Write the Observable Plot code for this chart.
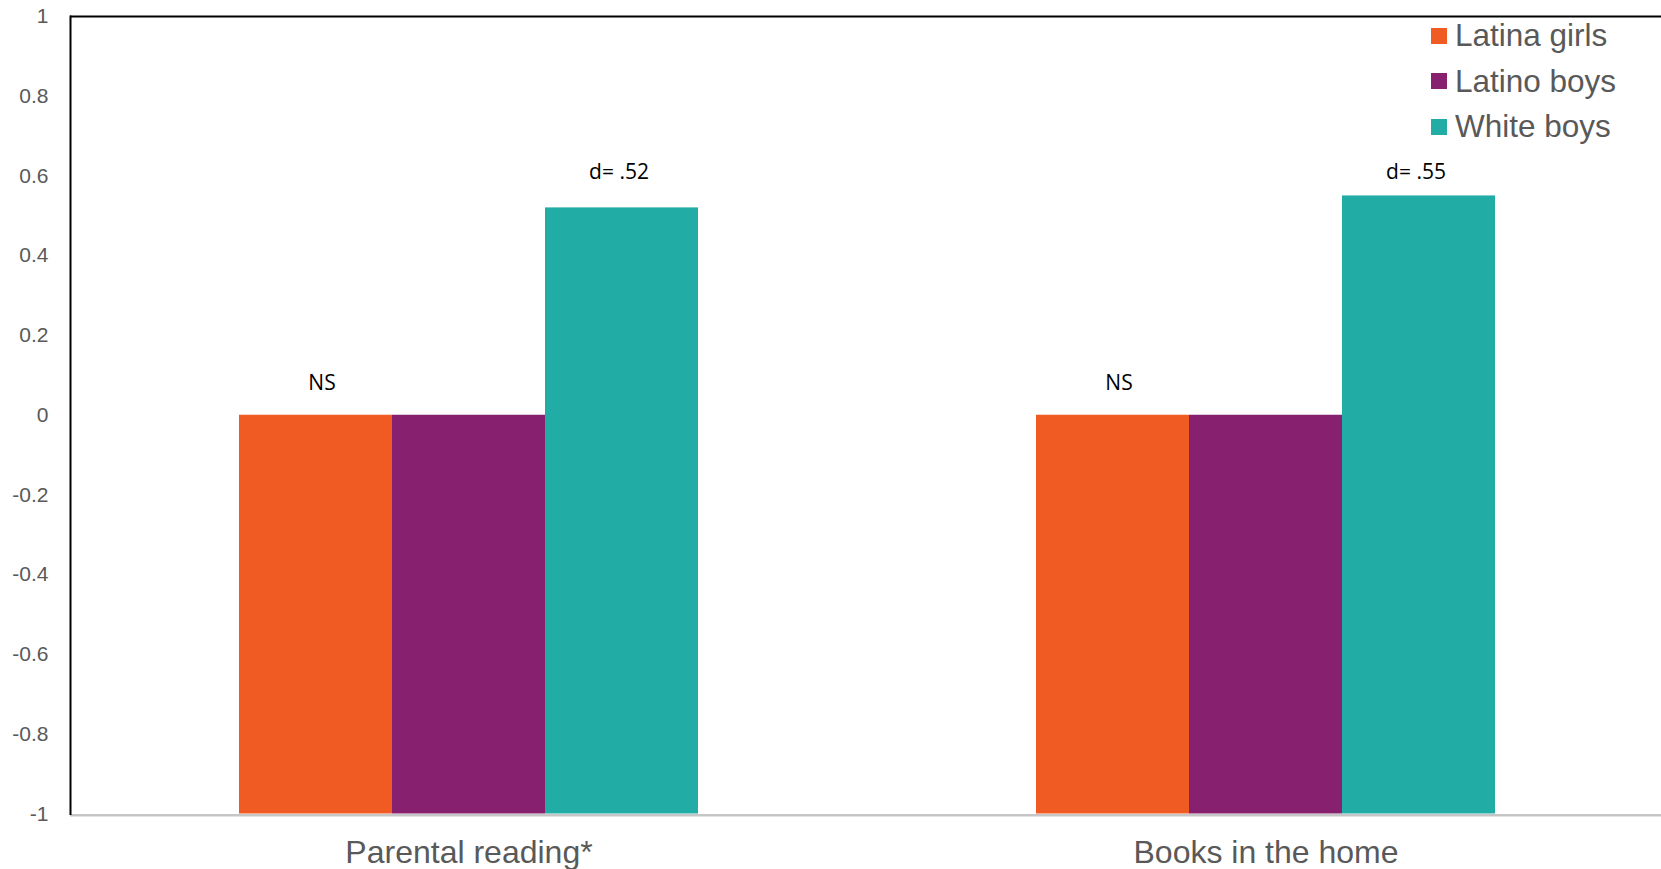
<!DOCTYPE html>
<html>
<head>
<meta charset="utf-8">
<script src="https://cdn.jsdelivr.net/npm/d3@7"></script>
<script src="https://cdn.jsdelivr.net/npm/@observablehq/plot@0.6"></script>
<style>
  html, body { margin: 0; padding: 0; background: #fff; }
  #wrap { position: relative; width: 1661px; height: 869px; overflow: hidden; }
  #wrap svg { max-width: none !important; display: block; }
  #legend { position: absolute; left: 1431px; top: 13px; font-family: "Liberation Sans", Arial, sans-serif; font-size: 31.5px; color: #595959; }
  #legend .row { display: flex; align-items: center; height: 45.5px; }
  #legend .sw { width: 16px; height: 16px; margin-right: 8px; }
</style>
</head>
<body>
<div id="wrap"><div id="legend"></div></div>
<script>
const categories = ["Parental reading*", "Books in the home"];
const series = ["Latina girls", "Latino boys", "White boys"];
const colors = ["#F05A23", "#87206F", "#22ACA6"];
const parentalReading = [0, 0, 0.52];
const booksInHome = [0, 0, 0.55];
const parentalLabels = ["NS", "", "d= .52"];
const booksLabels = ["NS", "", "d= .55"];
const labelLevels = [0.08, null, 0.61];
const yTicks = [1, 0.8, 0.6, 0.4, 0.2, 0, -0.2, -0.4, -0.6, -0.8, -1];

const values = [parentalReading, booksInHome];
const labels = [parentalLabels, booksLabels];
const data = [];
categories.forEach((c, i) => series.forEach((s, j) => data.push({cat: c, series: s, value: values[i][j], label: labels[i][j], labelY: labelLevels[j]})));
const nsData = data.filter(d => d.label === "NS");
const dData = data.filter(d => d.label.startsWith("d="));

const fmt = d => String(+d.toFixed(1));

const chart = Plot.plot({
  width: 1664,
  height: 869,
  marginLeft: 70,
  marginRight: 0,
  marginTop: 16,
  marginBottom: 55.5,
  style: {fontFamily: "'Liberation Sans', Arial, sans-serif", background: "#fff"},
  fx: {domain: categories, padding: 0, label: null},
  x: {domain: series, paddingInner: 0, paddingOuter: 1.095, axis: null},
  y: {domain: [-1, 1], ticks: yTicks, tickFormat: fmt, label: null, tickSize: 0},
  color: {domain: series, range: colors},
  marks: [
    Plot.axisY({ticks: yTicks, tickFormat: fmt, tickSize: 0, tickPadding: 22, fontSize: 21, fill: "#595959", label: null}),
    Plot.axisFx({anchor: "bottom", tickSize: 0, tickPadding: 26.5, fontSize: 32, fill: "#595959", label: null}),
    Plot.barY(data, {fx: "cat", x: "series", y1: -1, y2: "value", fill: "series", inset: 0}),
    Plot.ruleY([-1], {stroke: "#c6c6c6", strokeWidth: 2.5, dy: 1.2}),
    Plot.ruleY([1], {stroke: "#000", strokeWidth: 2}),
    Plot.frame({anchor: "left", facetAnchor: "left", stroke: "#000", strokeWidth: 2}),
    Plot.text(nsData, {fx: "cat", x: "series", y: "labelY", text: "label", dx: 6, fontSize: 21, fontFamily: "'Open Sans', sans-serif", fill: "#000"}),
    Plot.text(dData, {fx: "cat", x: "series", y: "labelY", text: "label", dx: -3, fontSize: 21, fontFamily: "'Open Sans', sans-serif", fill: "#000"})
  ]
});
document.getElementById("wrap").prepend(chart);

const legend = document.getElementById("legend");
series.forEach((s, i) => {
  const row = document.createElement("div");
  row.className = "row";
  const sw = document.createElement("div");
  sw.className = "sw";
  sw.style.background = colors[i];
  const t = document.createElement("span");
  t.textContent = s;
  row.append(sw, t);
  legend.append(row);
});
</script>
</body>
</html>
